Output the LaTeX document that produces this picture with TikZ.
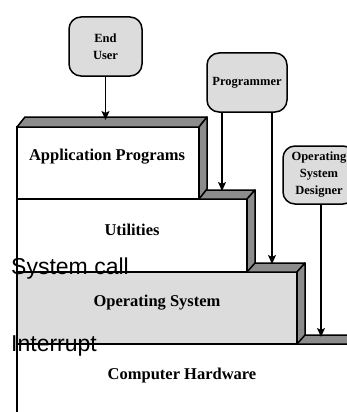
\documentclass[tikz,border=0pt]{standalone}
\usepackage{fontspec}
\setmainfont{Liberation Serif}
\newfontfamily\labelsans{Liberation Sans}
\usetikzlibrary{arrows.meta}

\definecolor{sidegray}{RGB}{140,140,140}
\definecolor{panelgray}{RGB}{220,220,220}

\tikzset{
  front/.style={draw=black, line width=1.5pt, fill=white, inner sep=0pt, outer sep=0pt, anchor=north west},
  sideface/.style={draw=black, line width=1.5pt, fill=sidegray, line join=round},
  actor/.style={draw=black, line width=1.5pt, fill=panelgray, rounded corners=12pt,
    inner sep=0pt, outer sep=0pt, align=center, font=\fontsize{12.5}{17}\selectfont\bfseries},
  layertext/.style={inner sep=0pt, font=\fontsize{16.5}{19}\selectfont\bfseries},
  sidenote/.style={inner sep=0pt, anchor=base west, font=\labelsans\fontsize{23}{26}\selectfont},
  arr/.style={line width=1.3pt, -{Stealth[length=9pt, width=8pt, inset=2pt]}}
}

\begin{document}
\begin{tikzpicture}[x=1pt, y=-1pt]
\useasboundingbox (0,0) rectangle (347,412);
\clip (0,0) rectangle (347,412);

% Computer hardware (bottom layer, runs past the frame)
\node[front, minimum width=360, minimum height=90] (hw) at (17,344) {};
\draw[sideface] (hw.north west) -- ++(8,-9) -- ++(360,0) -- (hw.north east) -- cycle;

% Operating system layer
\node[front, fill=panelgray, minimum width=280, minimum height=72] (os) at (17,272) {};
\draw[sideface] (os.north west) -- ++(8,-9) -- ++(280,0) -- (os.north east) -- cycle;
\draw[sideface] (os.north east) -- ++(8,-9) -- ++(0,72) -- (os.south east) -- cycle;

% Utilities layer
\node[front, minimum width=230, minimum height=73] (ut) at (17,199) {};
\draw[sideface] (ut.north west) -- ++(8,-9) -- ++(230,0) -- (ut.north east) -- cycle;
\draw[sideface] (ut.north east) -- ++(8,-9) -- ++(0,73) -- (ut.south east) -- cycle;

% Application programs layer
\node[front, minimum width=182, minimum height=72] (app) at (17,127) {};
\draw[sideface] (app.north west) -- ++(8,-10) -- ++(182,0) -- (app.north east) -- cycle;
\draw[sideface] (app.north east) -- ++(8,-10) -- ++(0,72) -- (app.south east) -- cycle;

% Layer names
\node[layertext] (appname) at (107,157) {Application Programs};
\node[layertext] (utname) at (132,230) {Utilities};
\node[layertext] (osname) at (157,303) {Operating System};
\node[layertext] (hwname) at (182,376) {Computer Hardware};

% Users of each layer
\node[actor, minimum width=73, minimum height=59] (user) at (105.5,46.5) {End\\User};
\node[actor, minimum width=80, minimum height=59] (prog) at (247,82.5) {Programmer};
\node[actor, minimum width=72, minimum height=58] (osd) at (319,175) {Operating\\System\\Designer};

% Where each user reaches the stack
\coordinate (t-user) at (105.5,120);
\coordinate (t-prog1) at (222,191);
\coordinate (t-prog2) at (272,264);
\coordinate (t-osd) at (321,337);

\draw[arr] (user.south) -- (t-user);
\draw[arr] (prog.south -| t-prog1) -- (t-prog1);
\draw[arr] (prog.south -| t-prog2) -- (t-prog2);
\draw[arr] (osd.south -| t-osd) -- (t-osd);

% Interface notes
\node[sidenote] (syscall) at (11,274.5) {System call};
\node[sidenote] (irq) at (11,351) {Interrupt};
\end{tikzpicture}
\end{document}
